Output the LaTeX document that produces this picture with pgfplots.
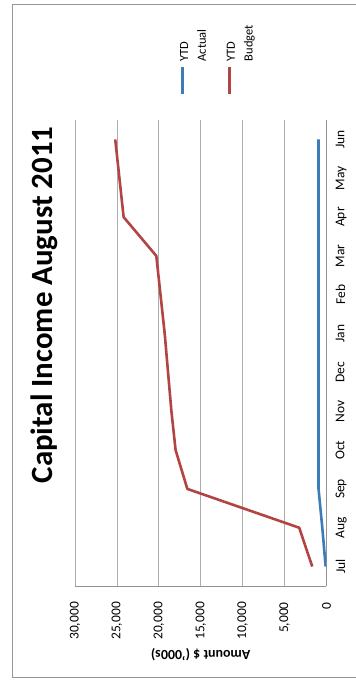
\documentclass[border=0pt]{standalone}
\usepackage{fontspec}
\setmainfont{Carlito}
\usepackage{pgfplots}
\pgfplotsset{compat=1.18}
\definecolor{actblue}{RGB}{60,125,185}
\definecolor{budred}{RGB}{178,68,66}
\definecolor{gridgray}{RGB}{172,172,172}
\definecolor{framegray}{RGB}{150,150,150}
\begin{document}
\begin{tikzpicture}
\begin{scope}[rotate=90, transform shape]
\useasboundingbox (0,0) rectangle (684bp,356bp);
\fill[white] (0,0) rectangle (684bp,356bp);
\draw[framegray, line width=1bp] (6bp,0) -- (6bp,343bp) -- (679bp,343bp) -- (679bp,0);
\node[font=\bfseries\fontsize{31}{37}\selectfont, anchor=base] at (379bp,303bp) {Capital Income August 2011};
\begin{axis}[
  at={(98bp,29.5bp)}, anchor=south west, scale only axis,
  width=466bp, height=251.5bp,
  xmin=-0.5, xmax=11.5, ymin=0, ymax=30000,
  xtick={0,...,11},
  xticklabels={Jul,Aug,Sep,Oct,Nov,Dec,Jan,Feb,Mar,Apr,May,Jun},
  ytick={0,5000,...,30000},
  scaled y ticks=false,
  axis x line*=bottom, axis y line*=left,
  axis line style={draw=gridgray!85!black, line width=0.8bp, -},
  ymajorgrids, grid style={gridgray, line width=0.8bp},
  major tick length=0pt,
  tick label style={font=\fontsize{13.5}{16}\selectfont},
  yticklabel style={inner sep=0pt, xshift=-16bp, /pgf/number format/1000 sep={,}, /pgf/number format/assume math mode=true},
  xticklabel style={inner sep=0pt, yshift=-9bp},
  ylabel={Amount \$ ('000s)},
  ylabel style={font=\bfseries\fontsize{14}{17}\selectfont, at={(axis description cs:-0.148,0.5)}, anchor=center},
  legend style={at={(1.0536,0.600)}, anchor=north west, draw=none, fill=none, inner sep=0pt, nodes={inner sep=0pt}, row sep=33bp, font=\fontsize{12.5}{17.7}\selectfont},
  legend cell align=left,
  legend image code/.code={\draw[#1] (0bp,0bp) -- (27bp,0bp);},
]
\addplot[actblue, line width=2.6bp, line join=round] coordinates {
 (0,100) (1,500) (2,950) (3,950) (4,950) (5,950) (6,950) (7,950) (8,950) (9,950) (10,950) (11,950)};
\addlegendentry{\begin{tabular}[t]{@{\hspace{4bp}}l@{}}YTD\\Actual\end{tabular}}
\addplot[budred, line width=2.6bp, line join=round] coordinates {
 (0,1700) (1,3250) (2,16600) (3,18000) (4,18500) (5,18900) (6,19300) (7,19800) (8,20300) (9,24200) (10,24700) (11,25200)};
\addlegendentry{\begin{tabular}[t]{@{\hspace{4bp}}l@{}}YTD\\Budget\end{tabular}}
\end{axis}
\end{scope}
\end{tikzpicture}
\end{document}
